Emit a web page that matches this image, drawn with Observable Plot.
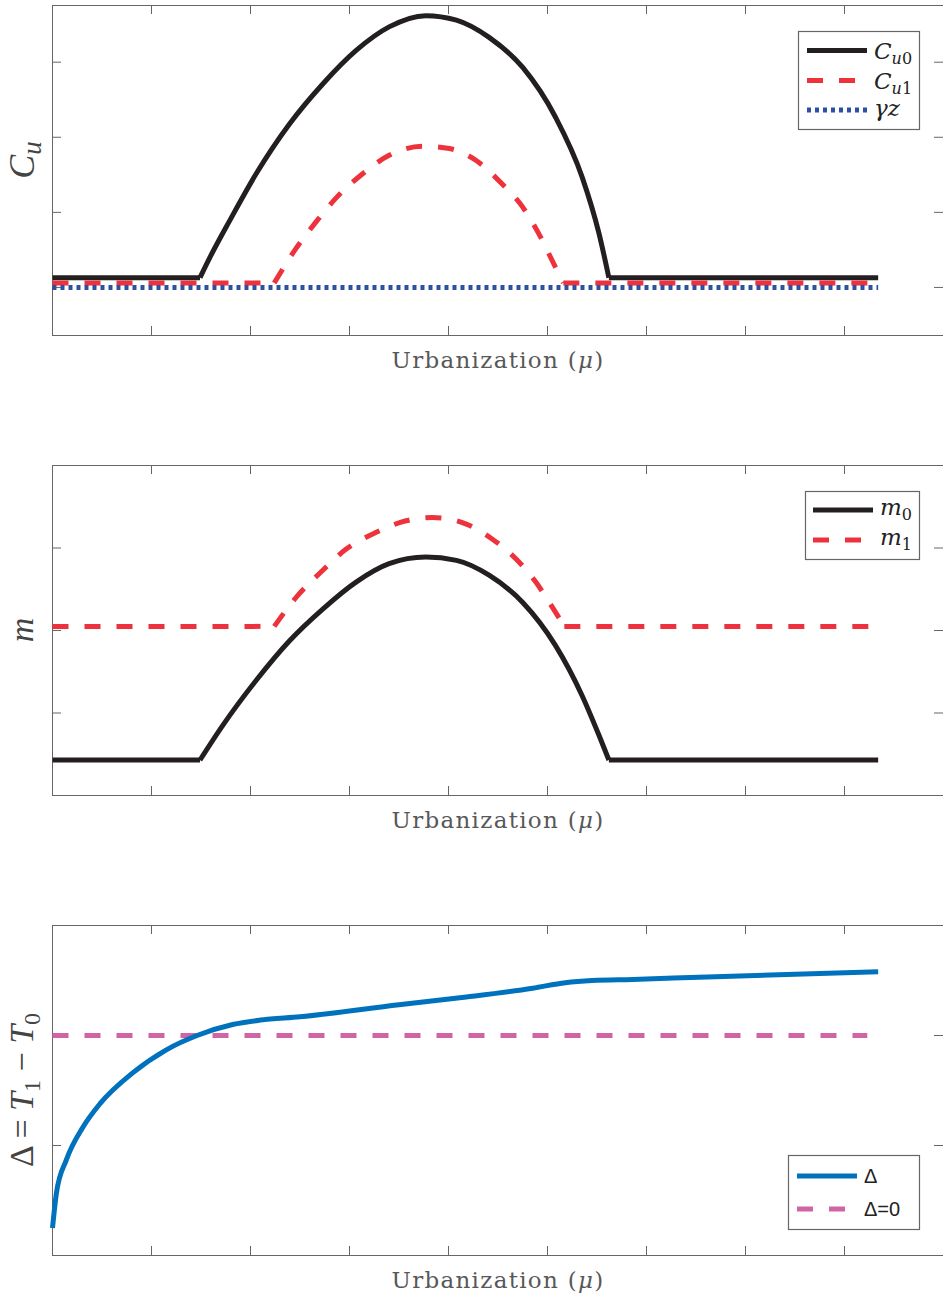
<!DOCTYPE html>
<html>
<head>
<meta charset="utf-8">
<script src="https://cdn.jsdelivr.net/npm/d3@7"></script>
<script src="https://cdn.jsdelivr.net/npm/@observablehq/plot@0.6"></script>
<style>
  body { margin: 0; background: #fff; }
  #chart svg { display: block; }
</style>
</head>
<body>
<div id="chart"></div>
<script>
// ---------- data ----------
const xTicks = [0, 1, 2, 3, 4, 5, 6, 7, 8, 9];
const cuTicks = [0, 1, 2, 3];
const mTicks = [0, 1, 2, 3, 4];
const dTicks = [-2, -1, 0, 1];

// Panel 1: C_u0, C_u1, gamma z
const cu0X = [0, 1.49, 1.59, 1.79, 2.06, 2.39, 2.73, 3.07, 3.40, 3.77, 4.08, 4.41, 4.75, 5.08, 5.35, 5.52, 5.62, 8.34];
const cu0Y = [0.13, 0.13, 0.40, 0.89, 1.52, 2.17, 2.71, 3.16, 3.47, 3.62, 3.56, 3.33, 2.93, 2.27, 1.47, 0.72, 0.13, 0.13];
const cu1X = [0, 2.24, 2.46, 2.66, 2.87, 3.13, 3.40, 3.74, 4.01, 4.28, 4.54, 4.75, 4.91, 5.08, 5.16, 8.34];
const cu1Y = [0.06, 0.06, 0.52, 0.87, 1.20, 1.51, 1.76, 1.88, 1.85, 1.69, 1.38, 1.07, 0.72, 0.27, 0.06, 0.06];
const gzX = [0, 8.34];
const gzY = [0, 0];

// Panel 2: m0, m1
const m0X = [0, 1.49, 1.72, 2.06, 2.39, 2.73, 3.07, 3.40, 3.77, 4.08, 4.41, 4.75, 5.08, 5.35, 5.52, 5.62, 8.34];
const m0Y = [0.43, 0.43, 0.85, 1.40, 1.87, 2.26, 2.59, 2.81, 2.89, 2.85, 2.67, 2.34, 1.82, 1.21, 0.73, 0.43, 0.43];
const m1X = [0, 2.24, 2.46, 2.73, 2.97, 3.27, 3.57, 3.84, 4.18, 4.44, 4.68, 4.88, 5.05, 5.17, 8.34];
const m1Y = [2.05, 2.05, 2.40, 2.73, 2.99, 3.19, 3.33, 3.37, 3.29, 3.11, 2.87, 2.59, 2.28, 2.05, 2.05];

// Panel 3: Delta = T1 - T0, Delta = 0
const dX = [0, 0.04, 0.14, 0.31, 0.48, 0.81, 1.15, 1.46, 1.82, 2.10, 2.50, 3.50, 4.18, 4.85, 5.18, 5.45, 5.86, 6.53, 8.34];
const dY = [-1.75, -1.43, -1.13, -0.83, -0.62, -0.34, -0.13, 0.00, 0.10, 0.14, 0.17, 0.28, 0.35, 0.43, 0.48, 0.50, 0.51, 0.53, 0.58];
const zeroX = [0, 8.23];
const zeroY = [0, 0];

// ---------- styling ----------
const W = 943, ML = 52, MR = 0, MT = 5;
const axisColor = "#666";
const BLACK = "#231f20", RED = "#ee323c", NAVY = "#2c50a4", BLUE = "#0072bd", PINK = "#d163a7";
const LW = 5;
const serif = "'Liberation Serif', 'Times New Roman', serif";
const dserif = "'DejaVu Serif', serif";
const sans = "'Liberation Sans', Arial, sans-serif";

const pts = (xs, ys) => xs.map((x, i) => ({x, y: ys[i]}));

// split a series into its flat leading/trailing plateaus and the smooth arc between
function split(xs, ys) {
  const n = ys.length;
  let a = 0; while (a + 1 < n && ys[a + 1] === ys[0]) a++;
  let b = n - 1; while (b - 1 > a && ys[b - 1] === ys[n - 1]) b--;
  const all = pts(xs, ys);
  const flats = [];
  if (a > 0) all.slice(0, a + 1).forEach(p => flats.push({...p, seg: "L"}));
  if (b < n - 1) all.slice(b).forEach(p => flats.push({...p, seg: "R"}));
  return {flats, arc: all.slice(a, b + 1)};
}

function panel({height, marginBottom, yDomain, yTicks, series}) {
  const plotH = height - MT - marginBottom;
  const plotW = W - ML - MR;
  const marks = [
    Plot.ruleX(xTicks, {x: d => d, insetTop: plotH - 9, stroke: axisColor}),
    Plot.ruleX(xTicks, {x: d => d, insetBottom: plotH - 9, stroke: axisColor}),
    Plot.ruleY(yTicks, {y: d => d, insetRight: plotW - 9, stroke: axisColor}),
    Plot.ruleY(yTicks, {y: d => d, insetLeft: plotW - 9, stroke: axisColor}),
    Plot.frame({stroke: axisColor, strokeWidth: 1})
  ];
  for (const s of series) {
    const {flats, arc} = split(s.xs, s.ys);
    const style = {
      stroke: s.stroke, strokeWidth: s.width || LW,
      strokeDasharray: s.dash || null,
      strokeLinecap: "butt", strokeLinejoin: "round"
    };
    if (flats.length) marks.push(Plot.line(flats, {x: "x", y: "y", z: "seg", curve: "linear", ...style}));
    if (arc.length > 1) marks.push(Plot.line(arc, {x: "x", y: "y", curve: arc.length > 2 ? "monotone-x" : "linear", ...style}));
  }
  return Plot.plot({
    width: W, height,
    marginTop: MT, marginLeft: ML, marginRight: MR, marginBottom,
    x: {domain: [0, 9], axis: null},
    y: {domain: yDomain, axis: null},
    style: {background: "#fff"},
    marks
  });
}

// rich text helper (italic / subscript parts)
function rich(g, parts, attrs, subDy, subSize) {
  const t = g.append("text");
  for (const [k, v] of Object.entries(attrs)) t.attr(k, v);
  let shift = 0;
  for (const p of parts) {
    const ts = t.append("tspan").text(p.t);
    if (p.i) ts.attr("font-style", "italic");
    if (p.fs) ts.attr("font-size", p.fs);
    const target = p.sub ? subDy : 0;
    if (target !== shift) { ts.attr("dy", target - shift); shift = target; }
    if (p.sub && !p.fs) ts.attr("font-size", subSize);
  }
  return t;
}

function addXLabel(svg) {
  const g = d3.select(svg);
  rich(g, [{t: "Urbanization ("}, {t: "μ", i: true}, {t: ")"}], {
    x: 498, y: 368, "text-anchor": "middle", "font-family": dserif,
    "font-size": 23, fill: "#585858", "letter-spacing": 1.3
  }, 0, 23);
}

function addYLabel(svg, parts, cy, subDy = 7, bx = 33) {
  const g = d3.select(svg);
  rich(g, parts, {
    transform: `translate(${bx},${cy}) rotate(-90)`, "text-anchor": "middle",
    "font-family": serif, "font-size": 34, fill: "#444"
  }, subDy, 24);
}

function addLegend(svg, box, rows) {
  const g = d3.select(svg).append("g");
  g.append("rect").attr("x", box.x0 + 0.5).attr("y", box.y0 + 0.5)
    .attr("width", box.x1 - box.x0).attr("height", box.y1 - box.y0)
    .attr("fill", "#fff").attr("stroke", axisColor).attr("stroke-width", 1.2);
  for (const r of rows) {
    g.append("line").attr("x1", box.l0).attr("x2", box.l1).attr("y1", r.y).attr("y2", r.y)
      .attr("stroke", r.stroke).attr("stroke-width", LW)
      .attr("stroke-dasharray", r.dash || null);
    rich(g, r.parts, {
      x: box.tx, y: r.y + (r.base || 8), "font-family": r.font || dserif,
      "text-anchor": "start",
      "font-size": r.fs || 23, fill: "#222"
    }, 5, 16);
  }
}

// ---------- build ----------
const root = document.getElementById("chart");

// Panel 1
const p1 = panel({
  height: 460, marginBottom: 125, yDomain: [-0.64, 3.755], yTicks: cuTicks,
  series: [
    {xs: cu0X, ys: cu0Y, stroke: BLACK},
    {xs: cu1X, ys: cu1Y, stroke: RED, dash: "16,16"},
    {xs: gzX, ys: gzY, stroke: NAVY, dash: "4,4"}
  ]
});
addXLabel(p1);
addYLabel(p1, [{t: "C", i: true, fs: 36}, {t: "u", i: true, sub: true, fs: 27}], 160, 7, 34);
addLegend(p1, {x0: 798, y0: 31, x1: 919, y1: 129, l0: 807, l1: 867, tx: 874}, [
  {y: 50.5, stroke: BLACK, parts: [{t: "C", i: true}, {t: "u", i: true, sub: true}, {t: "0", sub: true}]},
  {y: 80.5, stroke: RED, dash: "16,16", parts: [{t: "C", i: true}, {t: "u", i: true, sub: true}, {t: "1", sub: true}]},
  {y: 110, stroke: NAVY, dash: "4,4", parts: [{t: "γz", i: true}], base: 6}
]);
root.appendChild(p1);

// Panel 2
const p2 = panel({
  height: 460, marginBottom: 125, yDomain: [0, 4], yTicks: mTicks,
  series: [
    {xs: m1X, ys: m1Y, stroke: RED, dash: "16,16"},
    {xs: m0X, ys: m0Y, stroke: BLACK}
  ]
});
addXLabel(p2);
addYLabel(p2, [{t: "m", i: true}], 170);
addLegend(p2, {x0: 805, y0: 31, x1: 919, y1: 99, l0: 813, l1: 873, tx: 880}, [
  {y: 50, stroke: BLACK, parts: [{t: "m", i: true}, {t: "0", sub: true}], base: 5},
  {y: 80, stroke: RED, dash: "16,16", parts: [{t: "m", i: true}, {t: "1", sub: true}], base: 5}
]);
root.appendChild(p2);

// Panel 3
const p3 = panel({
  height: 380, marginBottom: 45, yDomain: [-2, 1], yTicks: dTicks,
  series: [
    {xs: zeroX, ys: zeroY, stroke: PINK, dash: "16,16"},
    {xs: dX, ys: dY, stroke: BLUE}
  ]
});
addXLabel(p3);
addYLabel(p3, [{t: "Δ = "}, {t: "T", i: true}, {t: "1", sub: true}, {t: " − "}, {t: "T", i: true}, {t: "0", sub: true}], 170);
addLegend(p3, {x0: 788, y0: 235, x1: 919, y1: 309, l0: 797, l1: 857, tx: 864}, [
  {y: 256, stroke: BLUE, parts: [{t: "Δ"}], font: sans, fs: 20, base: 7},
  {y: 289, stroke: PINK, dash: "16,16", parts: [{t: "Δ=0"}], font: sans, fs: 20, base: 7}
]);
root.appendChild(p3);
</script>
</body>
</html>
